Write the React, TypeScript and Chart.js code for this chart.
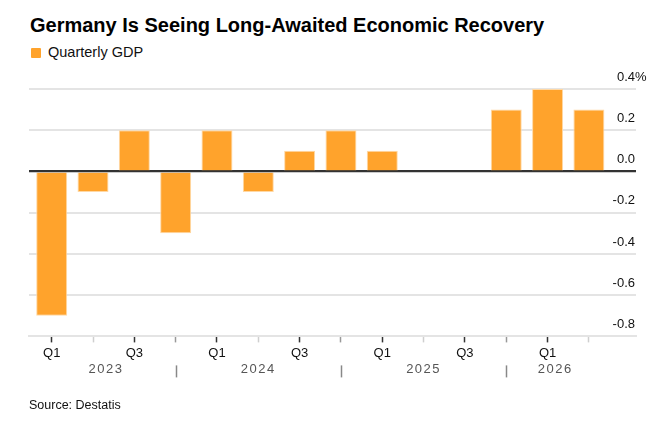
import { useEffect, useRef } from "react"
import { Chart, registerables } from "chart.js"

Chart.register(...registerables)

// quarter of each bar, Q1 2023 .. Q2 2026
const QUARTER_LABELS = ["Q1", "Q2", "Q3", "Q4", "Q1", "Q2", "Q3", "Q4", "Q1", "Q2", "Q3", "Q4", "Q1", "Q2"]
const SHOWN_QUARTERS = ["Q1", "Q3"]
const YEARS = ["2023", "2024", "2025", "2026"]
const GDP = [-0.7, -0.1, 0.2, -0.3, 0.2, -0.1, 0.1, 0.2, 0.1, 0.0, 0.0, 0.3, 0.4, 0.3]
const Y_TICKS = [-0.8, -0.6, -0.4, -0.2, 0.0, 0.2, 0.4]

const ORANGE = "#ffa32c"
const FONT = '"Liberation Sans", Arial, Helvetica, sans-serif'

const quarterTickColor = (i: number) => {
  const q = QUARTER_LABELS[i]
  if (q === "Q1" || q === "Q3") return "#333"
  if (q === "Q4") return "#999"
  return "#cfcfcf"
}

// zero line on top of bars, year row + separators, "%" after the top tick
const extras = {
  id: "extras",
  afterDatasetsDraw(chart: any) {
    const { ctx, chartArea, scales } = chart
    const y0 = scales.y.getPixelForValue(0)
    ctx.save()
    ctx.strokeStyle = "#333"
    ctx.lineWidth = 1.5
    ctx.beginPath()
    ctx.moveTo(chartArea.left, y0)
    ctx.lineTo(chartArea.right, y0)
    ctx.stroke()
    ctx.restore()
  },
  afterDraw(chart: any) {
    const { ctx, chartArea, scales } = chart
    const x = scales.x
    const y = scales.y
    const last = GDP.length - 1
    ctx.save()

    // years
    ctx.font = `13px ${FONT}`
    ctx.fillStyle = "#555"
    ctx.textAlign = "center"
    ctx.textBaseline = "middle"
    ;(ctx as any).letterSpacing = "1.5px"
    YEARS.forEach((year, k) => {
      const first = k * 4
      const q4 = k * 4 + 3
      const left = k === 0 ? x.getPixelForValue(first - 0.375) : x.getPixelForValue(first - 1)
      const right = q4 < last ? x.getPixelForValue(q4) : x.getPixelForValue(last + 0.375)
      ctx.fillText(year, (left + right) / 2, chartArea.bottom + 33)
      if (q4 < last) {
        const sx = Math.round(x.getPixelForValue(q4)) + 0.5
        ctx.strokeStyle = "#888"
        ctx.lineWidth = 1.5
        ctx.beginPath()
        ctx.moveTo(sx, chartArea.bottom + 29)
        ctx.lineTo(sx, chartArea.bottom + 41)
        ctx.stroke()
      }
    })
    ;(ctx as any).letterSpacing = "0px"

    // percent sign hanging after the top label
    const top = Y_TICKS[Y_TICKS.length - 1]
    ctx.font = `13px ${FONT}`
    ctx.fillStyle = "#111"
    ctx.textAlign = "left"
    ctx.fillText("%", chartArea.right - 1, y.getPixelForValue(top) - 12)
    ctx.restore()
  },
}

export default function App() {
  const canvasRef = useRef<HTMLCanvasElement>(null)
  const chartRef = useRef<Chart | null>(null)

  useEffect(() => {
    if (!canvasRef.current) return
    if (chartRef.current) chartRef.current.destroy()

    chartRef.current = new Chart(canvasRef.current, {
      type: "bar",
      data: {
        datasets: [
          {
            label: "Quarterly GDP",
            data: GDP.map((v, i) => ({ x: i, y: v })),
            backgroundColor: ORANGE,
            borderColor: "#ffd8a4",
            borderWidth: 1,
            categoryPercentage: 1,
            barPercentage: 0.75,
          },
        ],
      },
      options: {
        responsive: true,
        maintainAspectRatio: false,
        animation: false,
        layout: { padding: { left: 29, right: 33, top: 89, bottom: 62 } },
        plugins: {
          legend: { display: false },
          title: { display: false },
          tooltip: { enabled: false },
        },
        scales: {
          x: {
            type: "linear",
            offset: false,
            min: -0.549,
            max: 14.14,
            afterBuildTicks: (scale: any) => {
              scale.ticks = QUARTER_LABELS.map((_, i) => ({ value: i }))
            },
            grid: {
              offset: false,
              drawOnChartArea: false,
              drawTicks: true,
              tickLength: 6,
              tickWidth: 1.5,
              tickColor: (c: any) => quarterTickColor(c.tick ? c.tick.value : 0),
            },
            border: { display: true, color: "#e4e4e4", width: 2 },
            ticks: {
              autoSkip: false,
              maxRotation: 0,
              padding: 3,
              color: "#111",
              font: { family: FONT, size: 13 },
              callback: (v: any) => {
                const q = QUARTER_LABELS[Number(v)]
                return SHOWN_QUARTERS.includes(q) ? q : ""
              },
            },
          },
          y: {
            position: "right",
            min: -0.8,
            max: 0.4,
            afterBuildTicks: (scale: any) => {
              scale.ticks = Y_TICKS.map((v) => ({ value: v }))
            },
            grid: {
              drawTicks: false,
              lineWidth: 2,
              color: (c: any) => (c.tick && Math.abs(c.tick.value) < 1e-9 ? "#333" : "#e4e4e4"),
            },
            border: { display: false },
            ticks: {
              mirror: true,
              padding: -1,
              labelOffset: -12,
              color: "#111",
              font: { family: FONT, size: 13 },
              callback: (v: any) => (Math.abs(Number(v)) < 1e-9 ? 0 : Number(v)).toFixed(1),
            },
          },
        },
      },
      plugins: [extras],
    })

    return () => {
      if (chartRef.current) {
        chartRef.current.destroy()
        chartRef.current = null
      }
    }
  }, [])

  return (
    <div style={{ position: "absolute", left: 0, top: 0, width: 669, height: 426, background: "#fff", fontFamily: FONT }}>
      <div
        style={{
          position: "absolute",
          left: 30,
          top: 15,
          fontSize: 20,
          lineHeight: "20px",
          fontWeight: 700,
          color: "#000",
          whiteSpace: "nowrap",
        }}
      >
        Germany Is Seeing Long-Awaited Economic Recovery
      </div>
      <div style={{ position: "absolute", left: 31, top: 48, width: 10, height: 10, borderRadius: 1, background: ORANGE }} />
      <div
        style={{
          position: "absolute",
          left: 48,
          top: 45,
          fontSize: 14.5,
          lineHeight: "14.5px",
          color: "#111",
          whiteSpace: "nowrap",
        }}
      >
        Quarterly GDP
      </div>
      <div style={{ position: "absolute", left: 0, top: 0, width: 669, height: 426 }}>
        <canvas ref={canvasRef} aria-label="Germany quarterly GDP chart" role="img"></canvas>
      </div>
      <div
        style={{
          position: "absolute",
          left: 29,
          top: 399,
          fontSize: 12.5,
          lineHeight: "12.5px",
          color: "#111",
          whiteSpace: "nowrap",
        }}
      >
        Source: Destatis
      </div>
    </div>
  )
}
